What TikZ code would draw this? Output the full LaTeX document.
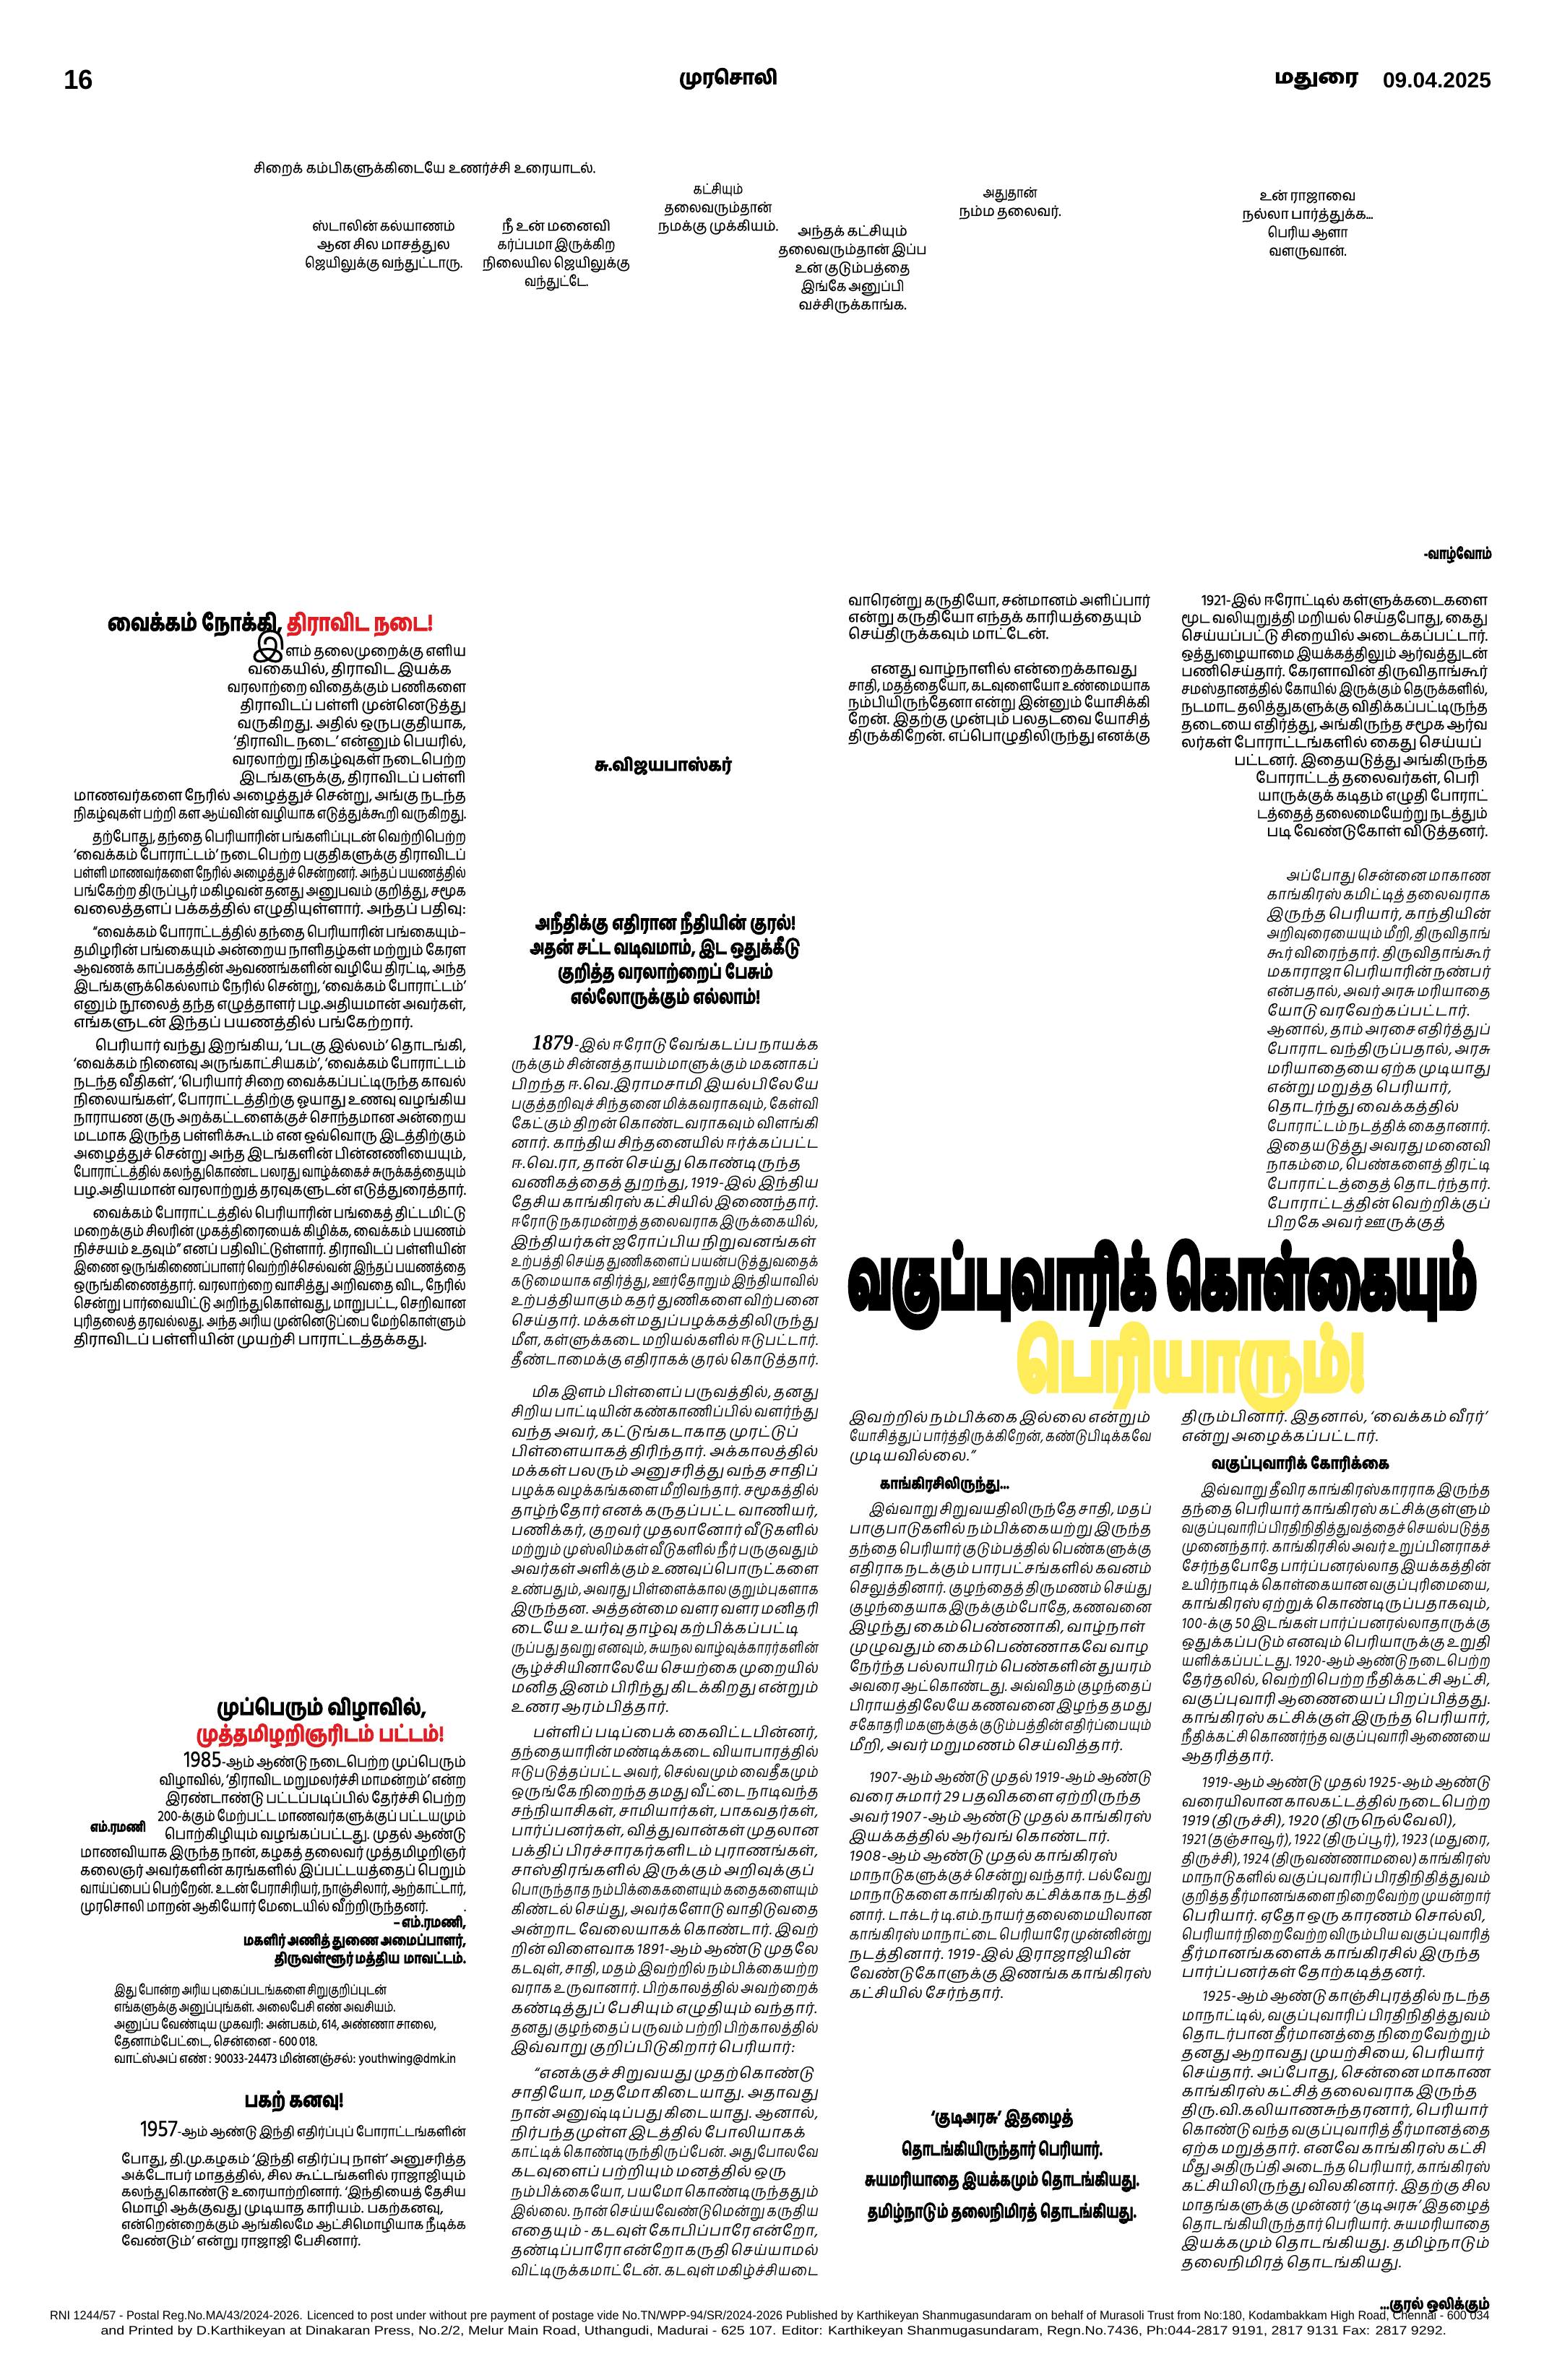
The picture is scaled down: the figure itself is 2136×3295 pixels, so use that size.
\documentclass[tikz,border=0pt]{standalone}
\usepackage{fontspec}
\usepackage{graphicx}
\newfontfamily\tm[Script=Tamil,FakeBold=0.4]{Hind Madurai}
\IfFontExistsTF{Hind Madurai Bold}{%
  \newfontfamily\tmb[Script=Tamil,FakeBold=3]{Hind Madurai Bold}%
  \newfontfamily\tmbb[Script=Tamil,FakeBold=9]{Hind Madurai Bold}}{%
  \newfontfamily\tmb[Script=Tamil,FakeBold=5]{Hind Madurai}%
  \newfontfamily\tmbb[Script=Tamil,FakeBold=12]{Hind Madurai}}
\newfontfamily\tms[Script=Tamil,FakeSlant=0.18,LetterSpace=5]{Hind Madurai}
\newfontfamily\lsans{Liberation Sans}
\newfontfamily\lserif{Liberation Serif}
\definecolor{tred}{RGB}{226,30,36}
\definecolor{tyel}{RGB}{255,236,90}
\newsavebox\lnbox
\newlength\strH \newlength\strD \newlength\pind
\setlength\pind{31pt}
\newcommand\setfs[2]{\fontsize{#1}{#2}\selectfont\lineskiplimit=-\maxdimen\relax
  \setlength\strH{0.72\baselineskip}\setlength\strD{0.28\baselineskip}}
\newcommand\fl[2]{\sbox\lnbox{#2}\ifdim\wd\lnbox>\hsize
  \hbox to\hsize{\vrule height\strH depth\strD width0pt\resizebox{\hsize}{\height}{\usebox\lnbox}}%
  \else\hbox to\hsize{\vrule height\strH depth\strD width0pt\unhcopy\lnbox#1}\fi}
\newcommand\jl[1]{\fl{}{#1}}
\newcommand\el[1]{\fl{\hfil}{#1}}
\newcommand\pl[1]{\fl{}{\hskip\pind\relax#1}}
\newcommand\il[2]{\fl{}{\hskip#1\relax#2}}
\newcommand\cl[1]{\hbox to\hsize{\vrule height\strH depth\strD width0pt\hfil#1\hfil}}
\newcommand\rl[1]{\hbox to\hsize{\vrule height\strH depth\strD width0pt\hfil#1}}
\newcommand\lfl[1]{\hbox to\hsize{\vrule height\strH depth\strD width0pt#1\hfil}}
\newcommand\wfit[2]{\resizebox{#1}{\height}{#2}}
\newcommand\numA[1]{\smash{\lserif\bfseries\itshape\fontsize{30}{30}\selectfont #1}}
\newcommand\numB[1]{\smash{\tm\fontsize{32}{32}\selectfont #1}}
\newcommand\startcol{\par\nointerlineskip}
\tikzset{
  every node/.style={inner sep=0pt,outer sep=0pt},
  col/.style={anchor=north west},
  comic/.style={anchor=north,text width=280pt},
}
\begin{document}
\begin{tikzpicture}[x=1pt,y=-1pt]
\useasboundingbox (0,0) rectangle (2136,3295);
\fill[white] (0,0) rectangle (2136,3295);

% ---------- header ----------
\node[anchor=west] (pg) at (88,110) {\lsans\bfseries\fontsize{38}{38}\selectfont\wfit{41pt}{16}};
\node (paper) at (1008,109) {\tmb\fontsize{27}{27}\selectfont\wfit{136pt}{முரசொலி}};
\node[anchor=west] (city) at (1764,112) {\tmb\fontsize{26}{26}\selectfont\wfit{116pt}{மதுரை}};
\node[anchor=west] (date) at (1914,111) {\lsans\bfseries\fontsize{30}{30}\selectfont\wfit{150pt}{09.04.2025}};

% ---------- comic captions ----------
\node[anchor=west] (cap) at (351,234) {\tm\fontsize{20}{20}\selectfont\wfit{473pt}{சிறைக் கம்பிகளுக்கிடையே உணர்ச்சி உரையாடல்.}};
\node[comic] (ca) at (531,301) {\tm\setfs{20}{25.5}\startcol
 \cl{\wfit{198pt}{ஸ்டாலின் கல்யாணம்}}\cl{\wfit{184pt}{ஆன சில மாசத்துல}}\cl{\wfit{218pt}{ஜெயிலுக்கு வந்துட்டாரு.}}};
\node[comic] (cb) at (770,301) {\tm\setfs{20}{25.5}\startcol
 \cl{\wfit{150pt}{நீ உன் மனைவி}}\cl{\wfit{163pt}{கர்ப்பமா இருக்கிற}}\cl{\wfit{204pt}{நிலையில ஜெயிலுக்கு}}\cl{\wfit{88pt}{வந்துட்டே.}}};
\node[comic] (cc) at (994,250) {\tm\setfs{20}{25.5}\startcol
 \cl{\wfit{69pt}{கட்சியும்}}\cl{\wfit{149pt}{தலைவரும்தான்}}\cl{\wfit{166pt}{நமக்கு முக்கியம்.}}};
\node[comic] (cd) at (1180,308) {\tm\setfs{20}{25.5}\startcol
 \cl{\wfit{152pt}{அந்தக் கட்சியும்}}\cl{\wfit{205pt}{தலைவரும்தான் இப்ப}}\cl{\wfit{159pt}{உன் குடும்பத்தை}}\cl{\wfit{143pt}{இங்கே அனுப்பி}}\cl{\wfit{149pt}{வச்சிருக்காங்க.}}};
\node[comic] (ce) at (1398,255) {\tm\setfs{20}{25.5}\startcol
 \cl{\wfit{75pt}{அதுதான்}}\cl{\wfit{141pt}{நம்ம தலைவர்.}}};
\node[comic] (cf) at (1810,259) {\tm\setfs{20}{25.5}\startcol
 \cl{\wfit{133pt}{உன் ராஜாவை}}\cl{\wfit{181pt}{நல்லா பார்த்துக்க...}}\cl{\wfit{111pt}{பெரிய ஆளா}}\cl{\wfit{107pt}{வளருவான்.}}};

\node[anchor=east] (valz) at (2065,768) {\tmb\fontsize{21}{21}\selectfont\wfit{94pt}{-வாழ்வோம்}};

% ---------- left column: vaikkam ----------
\node[anchor=west] (lah) at (149,864) {\tmb\fontsize{32}{32}\selectfont\wfit{450pt}{வைக்கம் நோக்கி, \textcolor{tred}{திராவிட நடை!}}};
\node[col,text width=543pt] (la) at (102,890) {\tm\setfs{21}{25}\startcol
\il{273pt}{\smash{\fontsize{46}{46}\selectfont இ}ளம் தலைமுறைக்கு எளிய}
\il{241pt}{வகையில், திராவிட இயக்க}
\il{241pt}{வரலாற்றை விதைக்கும் பணிகளை}
\il{241pt}{திராவிடப் பள்ளி முன்னெடுத்து}
\il{241pt}{வருகிறது. அதில் ஒருபகுதியாக,}
\il{241pt}{‘திராவிட நடை’ என்னும் பெயரில்,}
\il{241pt}{வரலாற்று நிகழ்வுகள் நடைபெற்ற}
\il{241pt}{இடங்களுக்கு, திராவிடப் பள்ளி}
\jl{மாணவர்களை நேரில் அழைத்துச் சென்று, அங்கு நடந்த}
\jl{நிகழ்வுகள் பற்றி கள ஆய்வின் வழியாக எடுத்துக்கூறி வருகிறது.}
\vskip7pt
\pl{தற்போது, தந்தை பெரியாரின் பங்களிப்புடன் வெற்றிபெற்ற}
\jl{‘வைக்கம் போராட்டம்’ நடைபெற்ற பகுதிகளுக்கு திராவிடப்}
\jl{பள்ளி மாணவர்களை நேரில் அழைத்துச் சென்றனர். அந்தப் பயணத்தில்}
\jl{பங்கேற்ற திருப்பூர் மகிழவன் தனது அனுபவம் குறித்து, சமூக}
\el{வலைத்தளப் பக்கத்தில் எழுதியுள்ளார். அந்தப் பதிவு:}
\vskip7pt
\pl{“வைக்கம் போராட்டத்தில் தந்தை பெரியாரின் பங்கையும்–}
\jl{தமிழரின் பங்கையும் அன்றைய நாளிதழ்கள் மற்றும் கேரள}
\jl{ஆவணக் காப்பகத்தின் ஆவணங்களின் வழியே திரட்டி, அந்த}
\jl{இடங்களுக்கெல்லாம் நேரில் சென்று, ‘வைக்கம் போராட்டம்’}
\jl{எனும் நூலைத் தந்த எழுத்தாளர் பழ.அதியமான் அவர்கள்,}
\el{எங்களுடன் இந்தப் பயணத்தில் பங்கேற்றார்.}
\vskip7pt
\pl{பெரியார் வந்து இறங்கிய, ‘படகு இல்லம்’ தொடங்கி,}
\jl{‘வைக்கம் நினைவு அருங்காட்சியகம்’, ‘வைக்கம் போராட்டம்}
\jl{நடந்த வீதிகள்’, ‘பெரியார் சிறை வைக்கப்பட்டிருந்த காவல்}
\jl{நிலையங்கள்’, போராட்டத்திற்கு ஓயாது உணவு வழங்கிய}
\jl{நாராயண குரு அறக்கட்டளைக்குச் சொந்தமான அன்றைய}
\jl{மடமாக இருந்த பள்ளிக்கூடம் என ஒவ்வொரு இடத்திற்கும்}
\jl{அழைத்துச் சென்று அந்த இடங்களின் பின்னணியையும்,}
\jl{போராட்டத்தில் கலந்துகொண்ட பலரது வாழ்க்கைச் சுருக்கத்தையும்}
\el{பழ.அதியமான் வரலாற்றுத் தரவுகளுடன் எடுத்துரைத்தார்.}
\vskip7pt
\pl{வைக்கம் போராட்டத்தில் பெரியாரின் பங்கைத் திட்டமிட்டு}
\jl{மறைக்கும் சிலரின் முகத்திரையைக் கிழிக்க, வைக்கம் பயணம்}
\jl{நிச்சயம் உதவும்” எனப் பதிவிட்டுள்ளார். திராவிடப் பள்ளியின்}
\jl{இணை ஒருங்கிணைப்பாளர் வெற்றிச்செல்வன் இந்தப் பயணத்தை}
\jl{ஒருங்கிணைத்தார். வரலாற்றை வாசித்து அறிவதை விட, நேரில்}
\jl{சென்று பார்வையிட்டு அறிந்துகொள்வது, மாறுபட்ட, செறிவான}
\jl{புரிதலைத் தரவல்லது. அந்த அரிய முன்னெடுப்பை மேற்கொள்ளும்}
\el{திராவிடப் பள்ளியின் முயற்சி பாராட்டத்தக்கது.}
};

% ---------- left column: mupperum vizha ----------
\node (lbh1) at (445,2366) {\tmb\fontsize{30}{30}\selectfont\wfit{290pt}{முப்பெரும் விழாவில்,}};
\node (lbh2) at (443,2403) {\tmb\fontsize{30}{30}\selectfont\color{tred}\wfit{343pt}{முத்தமிழறிஞரிடம் பட்டம்!}};
\node[anchor=west] (ramani) at (125,2530) {\tmb\fontsize{19}{19}\selectfont\wfit{77pt}{எம்.ரமணி}};
\node[col,text width=534pt] (lb) at (111,2428) {\tm\setfs{21}{25}\startcol
\il{165pt}{\numB{1985}-ஆம் ஆண்டு நடைபெற்ற முப்பெரும்}
\il{132pt}{விழாவில், ‘திராவிட மறுமலர்ச்சி மாமன்றம்’ என்ற}
\il{132pt}{இரண்டாண்டு பட்டப்படிப்பில் தேர்ச்சி பெற்ற}
\il{132pt}{200-க்கும் மேற்பட்ட மாணவர்களுக்குப் பட்டயமும்}
\il{132pt}{பொற்கிழியும் வழங்கப்பட்டது. முதல் ஆண்டு}
\jl{மாணவியாக இருந்த நான், கழகத் தலைவர் முத்தமிழறிஞர்}
\jl{கலைஞர் அவர்களின் கரங்களில் இப்பட்டயத்தைப் பெறும்}
\jl{வாய்ப்பைப் பெற்றேன். உடன் பேராசிரியர், நாஞ்சிலார், ஆற்காட்டார்,}
\el{முரசொலி மாறன் ஆகியோர் மேடையில் வீற்றிருந்தனர்.\hskip60pt.}
};
\node[anchor=north east,text width=320pt] (sig) at (645,2650) {\tmb\setfs{20}{25}\startcol
 \rl{\wfit{100pt}{– எம்.ரமணி,}}\rl{\wfit{308pt}{மகளிர் அணித் துணை அமைப்பாளர்,}}\rl{\wfit{265pt}{திருவள்ளூர் மத்திய\ \ மாவட்டம்.}}};
\node[col,text width=480pt] (photo) at (158,2744) {\tm\setfs{19}{23.7}\startcol
 \lfl{\wfit{377pt}{இது போன்ற அரிய புகைப்படங்களை சிறுகுறிப்புடன்}}
 \lfl{\wfit{389pt}{எங்களுக்கு அனுப்புங்கள். அலைபேசி எண் அவசியம்.}}
 \lfl{\wfit{446pt}{அனுப்ப வேண்டிய முகவரி: அன்பகம், 614, அண்ணா சாலை,}}
 \lfl{\wfit{281pt}{தேனாம்பேட்டை, சென்னை - 600 018.}}
 \lfl{\wfit{473pt}{வாட்ஸ்அப் எண் : 90033-24473 மின்னஞ்சல்: youthwing@dmk.in}}};
\node (lch) at (407,2909) {\tmb\fontsize{28}{28}\selectfont\wfit{137pt}{பகற் கனவு!}};
\node[col,text width=477pt] (lc) at (168,2941) {\tm\setfs{19}{22.7}\startcol
\il{30pt}{\numB{1957}-ஆம் ஆண்டு இந்தி எதிர்ப்புப் போராட்டங்களின்}
\vskip15pt
\jl{போது, தி.மு.கழகம் ‘இந்தி எதிர்ப்பு நாள்’ அனுசரித்த}
\jl{அக்டோபர் மாதத்தில், சில கூட்டங்களில் ராஜாஜியும்}
\jl{கலந்துகொண்டு உரையாற்றினார். ‘இந்தியைத் தேசிய}
\jl{மொழி ஆக்குவது முடியாத காரியம். பகற்கனவு,}
\jl{என்றென்றைக்கும் ஆங்கிலமே ஆட்சிமொழியாக நீடிக்க}
\el{வேண்டும்’ என்று ராஜாஜி பேசினார்.}
};

% ---------- middle column ----------
\node (auth) at (918,1060) {\tmb\fontsize{24}{24}\selectfont\wfit{190pt}{சு.விஜயபாஸ்கர்}};
\node (mh1) at (921,1278) {\tmb\fontsize{27}{27}\selectfont\wfit{360pt}{அநீதிக்கு எதிரான நீதியின் குரல்!}};
\node (mh2) at (921,1313) {\tmb\fontsize{27}{27}\selectfont\wfit{375pt}{அதன் சட்ட வடிவமாம், இட ஒதுக்கீடு}};
\node (mh3) at (921,1347) {\tmb\fontsize{27}{27}\selectfont\wfit{298pt}{குறித்த வரலாற்றைப் பேசும்}};
\node (mh4) at (921,1382) {\tmb\fontsize{27}{27}\selectfont\wfit{262pt}{எல்லோருக்கும் எல்லாம்!}};
\node[col,text width=425pt] (m1) at (707,1434) {\tms\setfs{21}{27.25}\startcol
\pl{\numA{1879}-இல் ஈரோடு வேங்கடப்ப நாயக்க}
\jl{ருக்கும் சின்னத்தாயம்மாளுக்கும் மகனாகப்}
\jl{பிறந்த ஈ.வெ.இராமசாமி இயல்பிலேயே}
\jl{பகுத்தறிவுச் சிந்தனை மிக்கவராகவும், கேள்வி}
\jl{கேட்கும் திறன் கொண்டவராகவும் விளங்கி}
\jl{னார். காந்திய சிந்தனையில் ஈர்க்கப்பட்ட}
\jl{ஈ.வெ.ரா, தான் செய்து கொண்டிருந்த}
\jl{வணிகத்தைத் துறந்து, 1919-இல் இந்திய}
\jl{தேசிய காங்கிரஸ் கட்சியில் இணைந்தார்.}
\jl{ஈரோடு நகரமன்றத் தலைவராக இருக்கையில்,}
\jl{இந்தியர்கள் ஐரோப்பிய நிறுவனங்கள்}
\jl{உற்பத்தி செய்த துணிகளைப் பயன்படுத்துவதைக்}
\jl{கடுமையாக எதிர்த்து, ஊர்தோறும் இந்தியாவில்}
\jl{உற்பத்தியாகும் கதர் துணிகளை விற்பனை}
\jl{செய்தார். மக்கள் மதுப்பழக்கத்திலிருந்து}
\jl{மீள, கள்ளுக்கடை மறியல்களில் ஈடுபட்டார்.}
\jl{தீண்டாமைக்கு எதிராகக் குரல் கொடுத்தார்.}
};
\node[col,text width=425pt] (m2) at (707,1915) {\tms\setfs{21}{27.25}\startcol
\pl{மிக இளம் பிள்ளைப் பருவத்தில், தனது}
\jl{சிறிய பாட்டியின் கண்காணிப்பில் வளர்ந்து}
\jl{வந்த அவர், கட்டுங்கடாகாத முரட்டுப்}
\jl{பிள்ளையாகத் திரிந்தார். அக்காலத்தில்}
\jl{மக்கள் பலரும் அனுசரித்து வந்த சாதிப்}
\jl{பழக்க வழக்கங்களை மீறிவந்தார். சமூகத்தில்}
\jl{தாழ்ந்தோர் எனக் கருதப்பட்ட வாணியர்,}
\jl{பணிக்கர், குறவர் முதலானோர் வீடுகளில்}
\jl{மற்றும் முஸ்லிம்கள் வீடுகளில் நீர் பருகுவதும்}
\jl{அவர்கள் அளிக்கும் உணவுப்பொருட்களை}
\jl{உண்பதும், அவரது பிள்ளைக்கால குறும்புகளாக}
\jl{இருந்தன. அத்தன்மை வளர வளர மனிதரி}
\jl{டையே உயர்வு தாழ்வு கற்பிக்கப்பட்டி}
\jl{ருப்பது தவறு எனவும், சுயநல வாழ்வுக்காரர்களின்}
\jl{சூழ்ச்சியினாலேயே செயற்கை முறையில்}
\jl{மனித இனம் பிரிந்து கிடக்கிறது என்றும்}
\el{உணர ஆரம்பித்தார்.}
};
\node[col,text width=425pt] (m3) at (707,2386) {\tms\setfs{21}{27.25}\startcol
\pl{பள்ளிப் படிப்பைக் கைவிட்டபின்னர்,}
\jl{தந்தையாரின் மண்டிக்கடை வியாபாரத்தில்}
\jl{ஈடுபடுத்தப்பட்ட அவர், செல்வமும் வைதீகமும்}
\jl{ஒருங்கே நிறைந்த தமது வீட்டை நாடிவந்த}
\jl{சந்நியாசிகள், சாமியார்கள், பாகவதர்கள்,}
\jl{பார்ப்பனர்கள், வித்துவான்கள் முதலான}
\jl{பக்திப் பிரச்சாரகர்களிடம் புராணங்கள்,}
\jl{சாஸ்திரங்களில் இருக்கும் அறிவுக்குப்}
\jl{பொருந்தாத நம்பிக்கைகளையும் கதைகளையும்}
\jl{கிண்டல் செய்து, அவர்களோடு வாதிடுவதை}
\jl{அன்றாட வேலையாகக் கொண்டார். இவற்}
\jl{றின் விளைவாக 1891-ஆம் ஆண்டு முதலே}
\jl{கடவுள், சாதி, மதம் இவற்றில் நம்பிக்கையற்ற}
\jl{வராக உருவானார். பிற்காலத்தில் அவற்றைக்}
\jl{கண்டித்துப் பேசியும் எழுதியும் வந்தார்.}
\jl{தனது குழந்தைப் பருவம் பற்றி பிற்காலத்தில்}
\el{இவ்வாறு குறிப்பிடுகிறார் பெரியார்:}
};
\node[col,text width=425pt] (m4) at (707,2858) {\tms\setfs{21}{27.25}\startcol
\pl{“எனக்குச் சிறுவயது முதற்கொண்டு}
\jl{சாதியோ, மதமோ கிடையாது. அதாவது}
\jl{நான் அனுஷ்டிப்பது கிடையாது. ஆனால்,}
\jl{நிர்பந்தமுள்ள இடத்தில் போலியாகக்}
\jl{காட்டிக் கொண்டிருந்திருப்பேன். அதுபோலவே}
\jl{கடவுளைப் பற்றியும் மனத்தில் ஒரு}
\jl{நம்பிக்கையோ, பயமோ கொண்டிருந்ததும்}
\jl{இல்லை. நான் செய்யவேண்டுமென்று கருதிய}
\jl{எதையும் - கடவுள் கோபிப்பாரே என்றோ,}
\jl{தண்டிப்பாரோ என்றோ கருதி செய்யாமல்}
\jl{விட்டிருக்கமாட்டேன். கடவுள் மகிழ்ச்சியடை}
};

% ---------- column 3 top ----------
\node[col,text width=418pt] (c3a) at (1174,821) {\tm\setfs{21}{23.2}\startcol
\jl{வாரென்று கருதியோ, சன்மானம் அளிப்பார்}
\jl{என்று கருதியோ எந்தக் காரியத்தையும்}
\el{செய்திருக்கவும் மாட்டேன்.}
};
\node[col,text width=418pt] (c3b) at (1174,916) {\tm\setfs{21}{23.2}\startcol
\pl{எனது வாழ்நாளில் என்றைக்காவது}
\jl{சாதி, மதத்தையோ, கடவுளையோ உண்மையாக}
\jl{நம்பியிருந்தேனா என்று இன்னும் யோசிக்கி}
\jl{றேன். இதற்கு முன்பும் பலதடவை யோசித்}
\jl{திருக்கிறேன். எப்பொழுதிலிருந்து எனக்கு}
};

% ---------- column 4 top ----------
\node[col,text width=424pt] (c4a) at (1635,820) {\tm\setfs{21}{24.6}\startcol
\il{29pt}{1921-இல் ஈரோட்டில் கள்ளுக்கடைகளை}
\jl{மூட வலியுறுத்தி மறியல் செய்தபோது, கைது}
\jl{செய்யப்பட்டு சிறையில் அடைக்கப்பட்டார்.}
\jl{ஒத்துழையாமை இயக்கத்திலும் ஆர்வத்துடன்}
\jl{பணிசெய்தார். கேரளாவின் திருவிதாங்கூர்}
\jl{சமஸ்தானத்தில் கோயில் இருக்கும் தெருக்களில்,}
\jl{நடமாட தலித்துகளுக்கு விதிக்கப்பட்டிருந்த}
\jl{தடையை எதிர்த்து, அங்கிருந்த சமூக ஆர்வ}
\jl{லர்கள் போராட்டங்களில் கைது செய்யப்}
\il{76pt}{பட்டனர். இதையடுத்து அங்கிருந்த}
\il{103pt}{போராட்டத் தலைவர்கள், பெரி}
\il{112pt}{யாருக்குக் கடிதம் எழுதி போராட்}
\il{121pt}{டத்தைத் தலைமையேற்று நடத்தும்}
\il{121pt}{படி வேண்டுகோள் விடுத்தனர்.}
};
\node[col,text width=309pt] (c4b) at (1753,1200) {\tms\setfs{21}{26.7}\startcol
\pl{அப்போது சென்னை மாகாண}
\jl{காங்கிரஸ் கமிட்டித் தலைவராக}
\jl{இருந்த பெரியார், காந்தியின்}
\jl{அறிவுரையையும் மீறி, திருவிதாங்}
\jl{கூர் விரைந்தார். திருவிதாங்கூர்}
\jl{மகாராஜா பெரியாரின் நண்பர்}
\jl{என்பதால், அவர் அரசு மரியாதை}
\jl{யோடு வரவேற்கப்பட்டார்.}
\jl{ஆனால், தாம் அரசை எதிர்த்துப்}
\jl{போராட வந்திருப்பதால், அரசு}
\jl{மரியாதையை ஏற்க முடியாது}
\jl{என்று மறுத்த பெரியார்,}
\jl{தொடர்ந்து வைக்கத்தில்}
\jl{போராட்டம் நடத்திக் கைதானார்.}
\jl{இதையடுத்து அவரது மனைவி}
\jl{நாகம்மை, பெண்களைத் திரட்டி}
\jl{போராட்டத்தைத் தொடர்ந்தார்.}
\jl{போராட்டத்தின் வெற்றிக்குப்}
\jl{பிறகே அவர் ஊருக்குத்}
};

% ---------- big headline ----------
\node[anchor=west] (bh1) at (1174,1778) {\tmbb\fontsize{110}{110}\selectfont\wfit{870pt}{வகுப்புவாரிக் கொள்கையும்}};
\node (bh2) at (1648,1893) {\tmbb\fontsize{110}{110}\selectfont\color{tyel}\wfit{482pt}{பெரியாரும்!}};

% ---------- column 3 bottom ----------
\node[col,text width=418pt] (c3c) at (1175,1950) {\tms\setfs{21}{26.5}\startcol
\jl{இவற்றில் நம்பிக்கை இல்லை என்றும்}
\jl{யோசித்துப் பார்த்திருக்கிறேன், கண்டுபிடிக்கவே}
\el{முடியவில்லை.”}
};
\node[anchor=west] (c3h) at (1218,2056) {\tmb\fontsize{21}{21}\selectfont\wfit{179pt}{காங்கிரசிலிருந்து...}};
\node[col,text width=418pt] (c3d) at (1175,2077) {\tms\setfs{21}{27.2}\startcol
\pl{இவ்வாறு சிறுவயதிலிருந்தே சாதி, மதப்}
\jl{பாகுபாடுகளில் நம்பிக்கையற்று இருந்த}
\jl{தந்தை பெரியார் குடும்பத்தில் பெண்களுக்கு}
\jl{எதிராக நடக்கும் பாரபட்சங்களில் கவனம்}
\jl{செலுத்தினார். குழந்தைத் திருமணம் செய்து}
\jl{குழந்தையாக இருக்கும்போதே, கணவனை}
\jl{இழந்து கைம்பெண்ணாகி, வாழ்நாள்}
\jl{முழுவதும் கைம்பெண்ணாகவே வாழ}
\jl{நேர்ந்த பல்லாயிரம் பெண்களின் துயரம்}
\jl{அவரை ஆட்கொண்டது. அவ்விதம் குழந்தைப்}
\jl{பிராயத்திலேயே கணவனை இழந்த தமது}
\jl{சகோதரி மகளுக்குக் குடும்பத்தின் எதிர்ப்பையும்}
\el{மீறி, அவர் மறுமணம் செய்வித்தார்.}
};
\node[col,text width=418pt] (c3e) at (1175,2448) {\tms\setfs{21}{27.2}\startcol
\pl{1907-ஆம் ஆண்டு முதல் 1919-ஆம் ஆண்டு}
\jl{வரை சுமார் 29 பதவிகளை ஏற்றிருந்த}
\jl{அவர் 1907 -ஆம் ஆண்டு முதல் காங்கிரஸ்}
\jl{இயக்கத்தில் ஆர்வங் கொண்டார்.}
\jl{1908-ஆம் ஆண்டு முதல் காங்கிரஸ்}
\jl{மாநாடுகளுக்குச் சென்று வந்தார். பல்வேறு}
\jl{மாநாடுகளை காங்கிரஸ் கட்சிக்காக நடத்தி}
\jl{னார். டாக்டர் டி.எம்.நாயர் தலைமையிலான}
\jl{காங்கிரஸ் மாநாட்டை பெரியாரே முன்னின்று}
\jl{நடத்தினார். 1919-இல் இராஜாஜியின்}
\jl{வேண்டுகோளுக்கு இணங்க காங்கிரஸ்}
\el{கட்சியில் சேர்ந்தார்.}
};
\node (q1) at (1387,2933) {\tmb\fontsize{25}{25}\selectfont\wfit{197pt}{‘குடிஅரசு’ இதழைத்}};
\node (q2) at (1387,2977) {\tmb\fontsize{25}{25}\selectfont\wfit{278pt}{தொடங்கியிருந்தார் பெரியார்.}};
\node (q3) at (1387,3020) {\tmb\fontsize{25}{25}\selectfont\wfit{380pt}{சுயமரியாதை இயக்கமும் தொடங்கியது.}};
\node (q4) at (1387,3064) {\tmb\fontsize{25}{25}\selectfont\wfit{372pt}{தமிழ்நாடும் தலைநிமிரத் தொடங்கியது.}};

% ---------- column 4 bottom ----------
\node[col,text width=427pt] (c4c) at (1635,1950) {\tms\setfs{21}{26.3}\startcol
\jl{திரும்பினார். இதனால், ‘வைக்கம் வீரர்’}
\el{என்று அழைக்கப்பட்டார்.}
};
\node[anchor=west] (c4h) at (1677,2027) {\tmb\fontsize{22}{22}\selectfont\wfit{246pt}{வகுப்புவாரிக் கோரிக்கை}};
\node[col,text width=427pt] (c4d) at (1635,2051) {\tms\setfs{21}{26.3}\startcol
\pl{இவ்வாறு தீவிர காங்கிரஸ்காரராக இருந்த}
\jl{தந்தை பெரியார் காங்கிரஸ் கட்சிக்குள்ளும்}
\jl{வகுப்புவாரிப் பிரதிநிதித்துவத்தைச் செயல்படுத்த}
\jl{முனைந்தார். காங்கிரசில் அவர் உறுப்பினராகச்}
\jl{சேர்ந்தபோதே பார்ப்பனரல்லாத இயக்கத்தின்}
\jl{உயிர்நாடிக் கொள்கையான வகுப்புரிமையை,}
\jl{காங்கிரஸ் ஏற்றுக் கொண்டிருப்பதாகவும்,}
\jl{100-க்கு 50 இடங்கள் பார்ப்பனரல்லாதாருக்கு}
\jl{ஒதுக்கப்படும் எனவும் பெரியாருக்கு உறுதி}
\jl{யளிக்கப்பட்டது. 1920-ஆம் ஆண்டு நடைபெற்ற}
\jl{தேர்தலில், வெற்றிபெற்ற நீதிக்கட்சி ஆட்சி,}
\jl{வகுப்புவாரி ஆணையைப் பிறப்பித்தது.}
\jl{காங்கிரஸ் கட்சிக்குள் இருந்த பெரியார்,}
\jl{நீதிக்கட்சி கொணர்ந்த வகுப்புவாரி ஆணையை}
\el{ஆதரித்தார்.}
};
\node[col,text width=427pt] (c4e) at (1635,2456) {\tms\setfs{21}{26.3}\startcol
\pl{1919-ஆம் ஆண்டு முதல் 1925-ஆம் ஆண்டு}
\jl{வரையிலான காலகட்டத்தில் நடைபெற்ற}
\jl{1919 (திருச்சி), 1920 (திருநெல்வேலி),}
\jl{1921 (தஞ்சாவூர்), 1922 (திருப்பூர்), 1923 (மதுரை,}
\jl{திருச்சி), 1924 (திருவண்ணாமலை) காங்கிரஸ்}
\jl{மாநாடுகளில் வகுப்புவாரிப் பிரதிநிதித்துவம்}
\jl{குறித்த தீர்மானங்களை நிறைவேற்ற முயன்றார்}
\jl{பெரியார். ஏதோ ஒரு காரணம் சொல்லி,}
\jl{பெரியார் நிறைவேற்ற விரும்பிய வகுப்புவாரித்}
\jl{தீர்மானங்களைக் காங்கிரசில் இருந்த}
\el{பார்ப்பனர்கள் தோற்கடித்தனர்.}
};
\node[col,text width=427pt] (c4f) at (1635,2752) {\tms\setfs{21}{26.3}\startcol
\pl{1925-ஆம் ஆண்டு காஞ்சிபுரத்தில் நடந்த}
\jl{மாநாட்டில், வகுப்புவாரிப் பிரதிநிதித்துவம்}
\jl{தொடர்பான தீர்மானத்தை நிறைவேற்றும்}
\jl{தனது ஆறாவது முயற்சியை, பெரியார்}
\jl{செய்தார். அப்போது, சென்னை மாகாண}
\jl{காங்கிரஸ் கட்சித் தலைவராக இருந்த}
\jl{திரு.வி.கலியாணசுந்தரனார், பெரியார்}
\jl{கொண்டு வந்த வகுப்புவாரித் தீர்மானத்தை}
\jl{ஏற்க மறுத்தார். எனவே காங்கிரஸ் கட்சி}
\jl{மீது அதிருப்தி அடைந்த பெரியார், காங்கிரஸ்}
\jl{கட்சியிலிருந்து விலகினார். இதற்கு சில}
\jl{மாதங்களுக்கு முன்னர் ‘குடிஅரசு’ இதழைத்}
\jl{தொடங்கியிருந்தார் பெரியார். சுயமரியாதை}
\jl{இயக்கமும் தொடங்கியது. தமிழ்நாடும்}
\el{தலைநிமிரத் தொடங்கியது.}
};
\node[anchor=east] (cont) at (2062,3191) {\tmb\fontsize{21}{21}\selectfont\wfit{152pt}{...குரல் ஒலிக்கும்}};

% ---------- footer ----------
\node[anchor=west] (f1) at (69,3207) {\lsans\fontsize{17}{17}\selectfont\wfit{1993pt}{RNI 1244/57 - Postal Reg.No.MA/43/2024-2026. Licenced to post under without pre payment of postage vide No.TN/WPP-94/SR/2024-2026 Published by Karthikeyan Shanmugasundaram on behalf of Murasoli Trust from No:180, Kodambakkam High Road, Chennai - 600 034}};
\node (f2) at (1071,3228) {\lsans\fontsize{17}{17}\selectfont\wfit{1863pt}{and Printed by D.Karthikeyan at Dinakaran Press, No.2/2, Melur Main Road, Uthangudi, Madurai - 625 107. Editor: Karthikeyan Shanmugasundaram, Regn.No.7436, Ph:044-2817 9191, 2817 9131 Fax: 2817 9292.}};
\end{tikzpicture}
\end{document}
